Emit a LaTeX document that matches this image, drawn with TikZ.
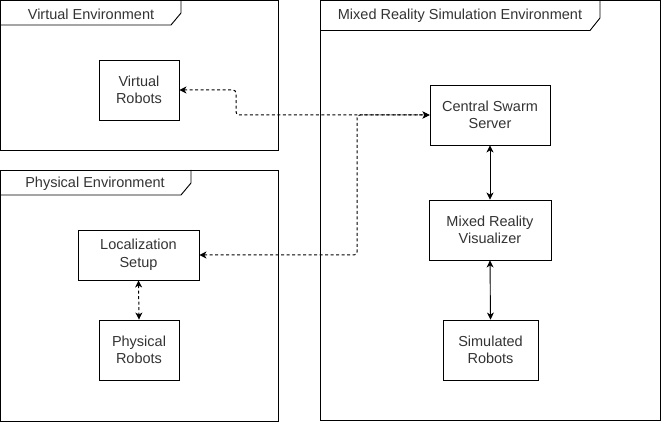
\documentclass[tikz,border=0pt]{standalone}
\usepackage{fontspec}
\setmainfont{Liberation Sans}
\usetikzlibrary{arrows.meta}
\definecolor{txt}{HTML}{333333}
\begin{document}
\begin{tikzpicture}[x=1pt,y=-1pt,
  every node/.style={font=\fontsize{14.5}{17.5}\selectfont, text=txt},
  frame/.style={draw=black, line width=0.9pt},
  blk/.style={draw=black, line width=0.9pt, align=center, inner sep=0pt},
  tablbl/.style={anchor=center, inner sep=0pt},
  arr/.style={line width=0.9pt, {Stealth[length=7pt,width=7pt,inset=2pt]}-{Stealth[length=7pt,width=7pt,inset=2pt]}},
  dsh/.style={arr, line width=1pt, dash pattern=on 3pt off 2.5pt, rounded corners=3pt}
]
\useasboundingbox (0,0) rectangle (662,422);
% frames
\draw[frame] (0.5,0.5) rectangle (278,150);
\draw[frame] (0.5,25) -- (171,25) -- (181,13) -- (181,0.5);
\node[tablbl] (tv) at (91,14) {Virtual Environment};

\draw[frame] (0.5,170) rectangle (278,421);
\draw[frame] (0.5,195) -- (181,195) -- (191,183) -- (191,170);
\node[tablbl] (tp) at (95,184) {Physical Environment};

\draw[frame] (320.5,0.5) rectangle (660,420);
\draw[frame] (320.5,30.5) -- (590,30.5) -- (600,18) -- (600,0.5);
\node[tablbl] (tm) at (460,16) {Mixed Reality Simulation Environment};

% boxes
\node[blk, minimum width=80pt, minimum height=60pt] (vr) at (139,90) {Virtual\\Robots};
\node[blk, minimum width=121pt, minimum height=50pt] (loc) at (138.5,255) {Localization\\Setup};
\node[blk, minimum width=80pt, minimum height=60pt] (pr) at (139,350) {Physical\\Robots};
\node[blk, minimum width=120pt, minimum height=60pt] (css) at (490,115) {Central Swarm\\Server};
\node[blk, minimum width=122pt, minimum height=60pt] (mrv) at (490,230) {Mixed Reality\\Visualizer};
\node[blk, minimum width=95pt, minimum height=60pt] (sr) at (490.5,350) {Simulated\\Robots};

% connectors
\coordinate (j1) at (236,90);
\coordinate (j2) at (357,115);
\draw[dsh] (vr.east) -- (j1) |- (css.west);
\draw[dsh] (loc.east) -| (j2) -- (css.west);
\draw[dsh] (loc.south) -- (pr.north);
\draw[arr] (css.south) -- (mrv.north);
\draw[arr] (mrv.south) -- (sr.north);
\end{tikzpicture}
\end{document}
